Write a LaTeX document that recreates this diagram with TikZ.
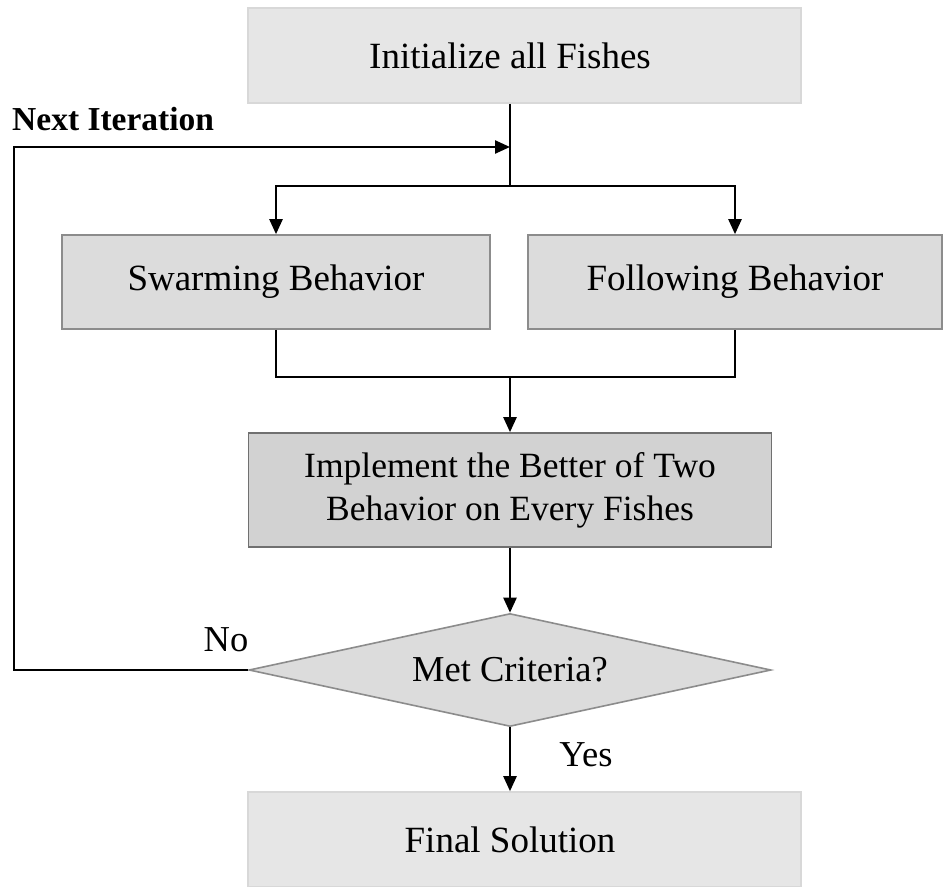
\documentclass[tikz,border=0pt]{standalone}
\usepackage{fontspec}
\setmainfont{Liberation Serif}
\usetikzlibrary{shapes.geometric,arrows.meta}
\definecolor{lightfill}{HTML}{E6E6E6}
\definecolor{lightedge}{HTML}{D8D8D8}
\definecolor{midfill}{HTML}{DCDCDC}
\definecolor{midedge}{HTML}{8C8C8C}
\definecolor{darkfill}{HTML}{D2D2D2}
\definecolor{darkedge}{HTML}{707070}
\tikzset{
  base/.style={font=\fontsize{37}{43}\selectfont, inner sep=0pt, align=center, line width=1.6pt},
  lightbox/.style={base, rectangle, fill=lightfill, draw=lightedge},
  midbox/.style={base, rectangle, fill=midfill, draw=midedge},
  darkbox/.style={base, rectangle, fill=darkfill, draw=darkedge, font=\fontsize{35.5}{43}\selectfont},
  decide/.style={base, diamond, aspect=4.6, fill=midfill, draw=midedge, font=\fontsize{36.5}{43}\selectfont},
  conn/.style={line width=2.4pt, black},
  arr/.style={conn, -{Triangle[length=15pt,width=13pt]}},
  lbl/.style={font=\fontsize{36.5}{40}\selectfont, inner sep=0pt}
}
\begin{document}
\begin{tikzpicture}[x=1pt,y=-1pt]
\useasboundingbox (0,0) rectangle (944,886);
\fill[white] (0,0) rectangle (944,886);
\node[lightbox, minimum width=553pt, minimum height=95pt] (init) at (524.5,55.5) {\hspace*{-29pt}Initialize all Fishes};
\node[midbox, minimum width=428pt, minimum height=94pt] (swarm) at (276,282) {Swarming Behavior};
\node[midbox, minimum width=414pt, minimum height=94pt] (follow) at (735,282) {Following Behavior};
\node[darkbox, minimum width=523pt, minimum height=114pt] (impl) at (510,490) {Implement the Better of Two\\Behavior on Every Fishes};
\node[decide, minimum width=522pt, minimum height=113pt] (crit) at (510,670) {Met Criteria?};
\node[lightbox, minimum width=553pt, minimum height=95pt] (final) at (524.5,839.5) {\hspace*{-29pt}Final Solution};
\coordinate (j1) at (510,186);
\coordinate (j2) at (510,147);
\coordinate (j3) at (510,377);
\coordinate (lp) at (14,400);
\node[lbl, font=\fontsize{33.5}{36}\selectfont\bfseries, anchor=west] (next) at (12,119) {Next Iteration};
\node[lbl] (no) at (226,640) {No};
\node[lbl] (yes) at (586,755) {Yes};
\draw[conn] (init.south -| j1) -- (j1);
\draw[arr] (j1) -| (swarm.north);
\draw[arr] (j1) -| (follow.north);
\draw[conn] (swarm.south) |- (j3) -| (follow.south);
\draw[arr] (j3) -- (impl.north);
\draw[arr] (impl.south -| j3) -- (crit.north);
\draw[arr] (crit.south) -- (crit.south |- final.north);
\draw[arr] (crit.west) -| (lp) |- (j2);
\end{tikzpicture}
\end{document}
